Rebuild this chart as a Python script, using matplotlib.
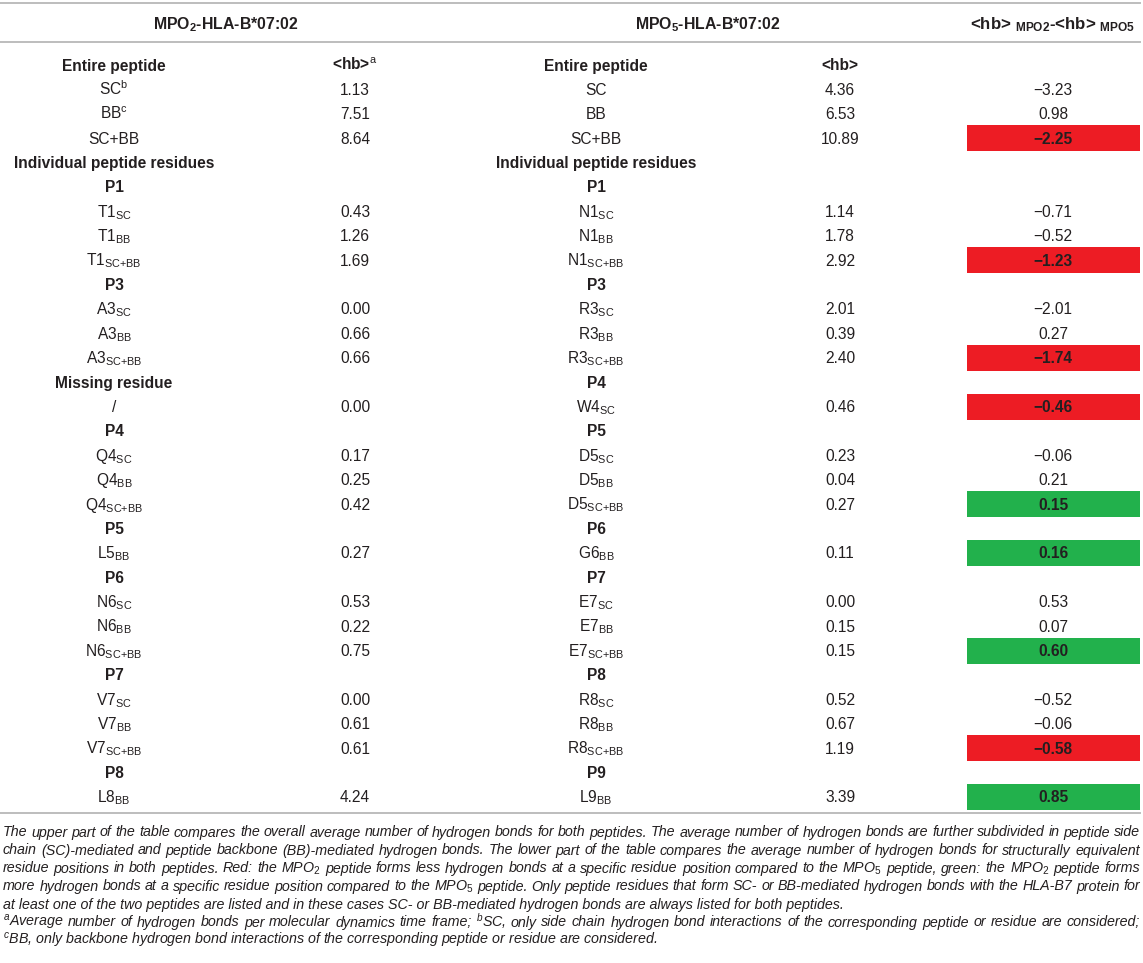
import matplotlib
matplotlib.use("Agg")
import matplotlib.pyplot as plt
from matplotlib.patches import Rectangle

plt.rcParams['font.family'] = ['Liberation Sans', 'DejaVu Sans']
plt.rcParams['mathtext.fontset'] = 'custom'
plt.rcParams['mathtext.rm'] = 'Liberation Sans'
plt.rcParams['mathtext.it'] = 'Liberation Sans:italic'
plt.rcParams['mathtext.bf'] = 'Liberation Sans:bold'

# --- table content ---
headers = [r"MPO$_\mathbf{2}$-HLA-B*07:02",
           r"MPO$_\mathbf{5}$-HLA-B*07:02",
           r"<hb> $_\mathbf{MPO2}$-<hb> $_\mathbf{MPO5}$"]

SB = r"$_\mathrm{SC{+}BB}$"
mpo2_labels = ["Entire peptide", r"SC$^\mathrm{b}$", r"BB$^\mathrm{c}$", "SC+BB",
               "Individual peptide residues", "P1",
               r"T1$_\mathrm{SC}$", r"T1$_\mathrm{BB}$", "T1" + SB, "P3",
               r"A3$_\mathrm{SC}$", r"A3$_\mathrm{BB}$", "A3" + SB,
               "Missing residue", "/", "P4",
               r"Q4$_\mathrm{SC}$", r"Q4$_\mathrm{BB}$", "Q4" + SB, "P5",
               r"L5$_\mathrm{BB}$", "P6",
               r"N6$_\mathrm{SC}$", r"N6$_\mathrm{BB}$", "N6" + SB, "P7",
               r"V7$_\mathrm{SC}$", r"V7$_\mathrm{BB}$", "V7" + SB, "P8",
               r"L8$_\mathrm{BB}$"]
mpo2_hb = [r"<hb>$^\mathrm{a}$", "1.13", "7.51", "8.64", "", "",
           "0.43", "1.26", "1.69", "", "0.00", "0.66", "0.66", "", "0.00", "",
           "0.17", "0.25", "0.42", "", "0.27", "", "0.53", "0.22", "0.75", "",
           "0.00", "0.61", "0.61", "", "4.24"]

mpo5_labels = ["Entire peptide", "SC", "BB", "SC+BB",
               "Individual peptide residues", "P1",
               r"N1$_\mathrm{SC}$", r"N1$_\mathrm{BB}$", "N1" + SB, "P3",
               r"R3$_\mathrm{SC}$", r"R3$_\mathrm{BB}$", "R3" + SB,
               "P4", r"W4$_\mathrm{SC}$", "P5",
               r"D5$_\mathrm{SC}$", r"D5$_\mathrm{BB}$", "D5" + SB, "P6",
               r"G6$_\mathrm{BB}$", "P7",
               r"E7$_\mathrm{SC}$", r"E7$_\mathrm{BB}$", "E7" + SB, "P8",
               r"R8$_\mathrm{SC}$", r"R8$_\mathrm{BB}$", "R8" + SB, "P9",
               r"L9$_\mathrm{BB}$"]
mpo5_hb = ["<hb>", "4.36", "6.53", "10.89", "", "",
           "1.14", "1.78", "2.92", "", "2.01", "0.39", "2.40", "", "0.46", "",
           "0.23", "0.04", "0.27", "", "0.11", "", "0.00", "0.15", "0.15", "",
           "0.52", "0.67", "1.19", "", "3.39"]

diff_hb = ["", "\u22123.23", "0.98", "\u22122.25", "", "",
           "\u22120.71", "\u22120.52", "\u22121.23", "", "\u22122.01", "0.27", "\u22121.74", "", "\u22120.46", "",
           "\u22120.06", "0.21", "0.15", "", "0.16", "", "0.53", "0.07", "0.60", "",
           "\u22120.52", "\u22120.06", "\u22120.58", "", "0.85"]
diff_flag = ["", "", "", "red", "", "",
             "", "", "red", "", "", "", "red", "", "red", "",
             "", "", "green", "", "green", "", "", "", "green", "",
             "", "", "red", "", "green"]

footnotes = [
    "The upper part of the table compares the overall average number of hydrogen bonds for both peptides. The average number of hydrogen bonds are further subdivided in peptide side",
    "chain (SC)-mediated and peptide backbone (BB)-mediated hydrogen bonds. The lower part of the table compares the average number of hydrogen bonds for structurally equivalent",
    r"residue positions in both peptides. Red: the MPO$_2$ peptide forms less hydrogen bonds at a specific residue position compared to the MPO$_5$ peptide, green: the MPO$_2$ peptide forms",
    r"more hydrogen bonds at a specific residue position compared to the MPO$_5$ peptide. Only peptide residues that form SC- or BB-mediated hydrogen bonds with the HLA-B7 protein for",
    "at least one of the two peptides are listed and in these cases SC- or BB-mediated hydrogen bonds are always listed for both peptides.",
    r"$^a$Average number of hydrogen bonds per molecular dynamics time frame; $^b$SC, only side chain hydrogen bond interactions of the corresponding peptide or residue are considered;",
    r"$^c$BB, only backbone hydrogen bond interactions of the corresponding peptide or residue are considered.",
]
justified = [True, True, True, True, False, True, False]

flag_colors = {"red": "#ed1c24", "green": "#22b14c"}

# --- layout (pixels) ---
W, H = 1143, 963
col_x = [114, 355, 596, 840, 1053]
head_x = [226, 708, 1053]
head_fs = [11.4, 11.4, 12.2]
row0, row_step = 65, 24.4
fs = 11.2
ink = "#231f20"

fig = plt.figure(figsize=(W / 100, H / 100), dpi=100)
ax = fig.add_axes([0, 0, 1, 1])
ax.set_xlim(0, W)
ax.set_ylim(H, 0)
ax.axis("off")

rule = dict(color="#bdbdbd", lw=1.4)
for y in (3, 42, 813):
    ax.plot([0, 1140], [y, y], **rule)

for x, h, f in zip(head_x, headers, head_fs):
    ax.text(x, 29, h, ha="center", va="baseline", fontsize=f, fontweight="bold", color=ink)

for i in range(len(mpo2_labels)):
    yc = row0 + i * row_step
    yb = yc + 5.5
    bold = (i == 0) or (mpo2_hb[i] == "")
    w = "bold" if bold else "normal"
    ax.text(col_x[0], yb, mpo2_labels[i], ha="center", va="baseline", fontsize=fs, fontweight=w, color=ink)
    ax.text(col_x[1], yb, mpo2_hb[i], ha="center", va="baseline", fontsize=fs, fontweight=w, color=ink)
    ax.text(col_x[2], yb, mpo5_labels[i], ha="center", va="baseline", fontsize=fs, fontweight=w, color=ink)
    ax.text(col_x[3], yb, mpo5_hb[i], ha="center", va="baseline", fontsize=fs, fontweight=w, color=ink)
    if diff_flag[i]:
        ax.add_patch(Rectangle((967, yc - 13), 173, 26, facecolor=flag_colors[diff_flag[i]],
                               edgecolor="none"))
    ax.text(col_x[4], yb, diff_hb[i], ha="center", va="baseline", fontsize=fs,
            fontweight="bold" if diff_flag[i] else "normal", color=ink)

# --- footnotes, justified word by word ---
renderer = fig.canvas.get_renderer()
probe = ax.text(0, 0, footnotes[0], fontsize=10, style="italic")
natural = probe.get_window_extent(renderer).width
probe.remove()
fs_note = 10 * 1150 / natural

x0, x1 = 3, 1140
for k, line in enumerate(footnotes):
    yb = 832 + k * 18 + 4.5
    kw = dict(fontsize=fs_note, style="italic", va="baseline", ha="left", color=ink)
    if not justified[k]:
        ax.text(x0, yb, line, **kw)
        continue
    words = line.split(" ")
    texts = [ax.text(0, yb, w, **kw) for w in words]
    widths = [t.get_window_extent(renderer).width for t in texts]
    gap = (x1 - x0 - sum(widths)) / (len(words) - 1)
    x = x0
    for t, wd in zip(texts, widths):
        t.set_x(x)
        x += wd + gap

fig.savefig("out.png", dpi=100)
